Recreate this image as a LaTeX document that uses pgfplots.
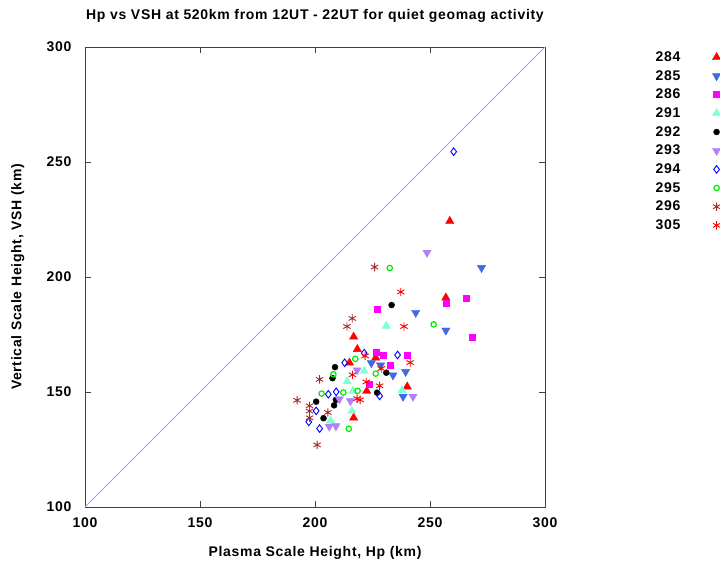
\documentclass[border=0pt]{standalone}
\usepackage{pgfplots}
\pgfplotsset{compat=1.18}
\usepackage{fontspec}
\setmainfont{Liberation Sans}
\newfontfamily\gf{Liberation Sans}[LetterSpace=5]

\definecolor{c284}{RGB}{255,0,0}
\definecolor{c285}{RGB}{65,105,225}
\definecolor{c286}{RGB}{255,0,255}
\definecolor{c291}{RGB}{127,255,212}
\definecolor{c292}{RGB}{0,0,0}
\definecolor{c293}{RGB}{178,128,255}
\definecolor{c294}{RGB}{0,0,255}
\definecolor{c295}{RGB}{0,235,0}
\definecolor{c296}{RGB}{165,42,42}
\definecolor{c305}{RGB}{255,0,0}
\definecolor{diaglinecol}{RGB}{185,150,255}
\definecolor{framecol}{RGB}{64,64,64}

\begin{document}
\begin{tikzpicture}
\path[use as bounding box] (0,0) rectangle (720pt,563pt);
\begin{axis}[
    at={(85pt,56pt)}, anchor=south west,
    width=460pt, height=460pt, scale only axis,
    xmin=100, xmax=300, ymin=100, ymax=300,
    xtick={100,150,...,300}, ytick={100,150,...,300},
    tick align=inside, major tick length=6pt,
    axis line style={framecol, line width=0.8pt},
    every tick/.style={framecol, line width=0.8pt},
    /pgf/number format/assume math mode=true,
    ticklabel style={font=\fontsize{14}{16}\gf\bfseries},
    xticklabel style={yshift=-7pt},
    yticklabel style={xshift=-10pt},
    title={Hp vs VSH at 520km from 12UT - 22UT for quiet geomag activity},
    every axis title shift=0pt,
    title style={font=\fontsize{14}{16}\gf\bfseries, at={(axis description cs:0.5,1.067)}, anchor=center},
    xlabel={Plasma Scale Height, Hp (km)},
    ylabel={Vertical Scale Height, VSH (km)},
    label style={font=\fontsize{14}{16}\gf\bfseries},
    xlabel style={at={(axis description cs:0.5,-0.1)}, anchor=center},
    ylabel style={at={(axis description cs:-0.146,0.5)}, anchor=center, rotate=0},
    legend plot pos=right,
    legend cell align=right,
    legend style={at={(axis description cs:1.389,0.999)}, anchor=north east,
        draw=none, fill=none, font=\fontsize{14}{16}\gf\bfseries,
        row sep=3.4pt,
        /tikz/every odd column/.style={column sep=30pt}},
]
\addplot[draw=diaglinecol, line width=0.8pt, mark=none, forget plot] coordinates {(100,100) (300,300)};

% 284
\addplot[only marks, mark=triangle*, mark size=4.8pt, color=c284] coordinates {
(258.6,224.3) (256.9,191.0) (216.8,174.0) (218.4,168.6) (226.4,164.9)
(215.0,162.7) (240.1,152.3) (222.5,150.4) (216.8,138.8)
};
% 285
\addplot[only marks, mark=triangle*, mark size=4.8pt, color=c285, mark options={rotate=180}] coordinates {
(272.4,204.0) (243.8,184.5) (256.9,176.8) (224.5,162.6) (228.5,161.6)
(233.9,157.3) (239.4,158.8) (238.3,148.0)
};
% 286
\addplot[only marks, mark=square*, mark size=3pt, color=c286] coordinates {
(265.6,190.7) (256.9,188.8) (268.5,173.9) (227.2,186.2) (226.7,167.4)
(229.6,166.1) (240.1,166.1) (232.9,161.6) (223.4,153.6)
};
% 291
\addplot[only marks, mark=triangle*, mark size=4.8pt, color=c291] coordinates {
(231.0,178.7) (221.4,159.1) (214.0,154.6) (237.9,150.7) (216.5,150.4)
(216.0,141.7) (206.8,137.5)
};
% 292
\addplot[only marks, mark=*, mark size=3pt, color=c292] coordinates {
(233.3,187.8) (208.7,160.8) (207.6,156.0) (231.0,158.4) (227.0,149.7)
(208.3,144.2) (200.5,145.8) (209.1,146.6) (203.7,138.6)
};
% 293
\addplot[only marks, mark=triangle*, mark size=4.8pt, color=c293, mark options={rotate=180}] coordinates {
(248.7,210.6) (218.3,159.5) (242.6,148.0) (210.6,146.9) (215.4,146.1)
(206.2,135.0) (209.1,135.2)
};
% 294
\addplot[only marks, mark=diamond, mark size=3.8pt, color=c294, mark options={line width=0.9pt}] coordinates {
(260.3,254.5) (221.4,166.9) (235.9,166.1) (212.9,162.7) (228.1,148.3)
(205.8,149.0) (209.2,150.1) (200.5,141.8) (197.3,137.0) (202.0,134.1)
};
% 295
\addplot[only marks, mark=o, mark size=2.7pt, color=c295, mark options={line width=1.2pt}] coordinates {
(232.5,203.9) (251.6,179.4) (217.5,164.4) (226.4,158.0) (208.0,157.7)
(218.5,150.5) (212.3,149.8) (202.9,149.3) (214.7,134.0)
};
% 296
\addplot[only marks, mark=asterisk, mark size=4.2pt, color=c296, mark options={line width=0.9pt}] coordinates {
(225.9,204.3) (216.2,182.0) (213.9,178.5) (202.0,155.5) (192.2,146.4)
(197.6,144.0) (197.6,141.7) (197.6,138.8) (205.6,141.1) (200.9,127.0)
};
% 305
\addplot[only marks, mark=asterisk, mark size=4.2pt, color=c305, mark options={line width=0.9pt}] coordinates {
(237.3,193.5) (238.7,178.5) (221.8,165.7) (241.4,162.8) (228.8,160.2)
(216.3,157.5) (222.3,154.4) (228.1,152.7) (218.3,147.1) (219.6,146.6)
};

\legend{284,285,286,291,292,293,294,295,296,305}
\end{axis}
\end{tikzpicture}
\end{document}
